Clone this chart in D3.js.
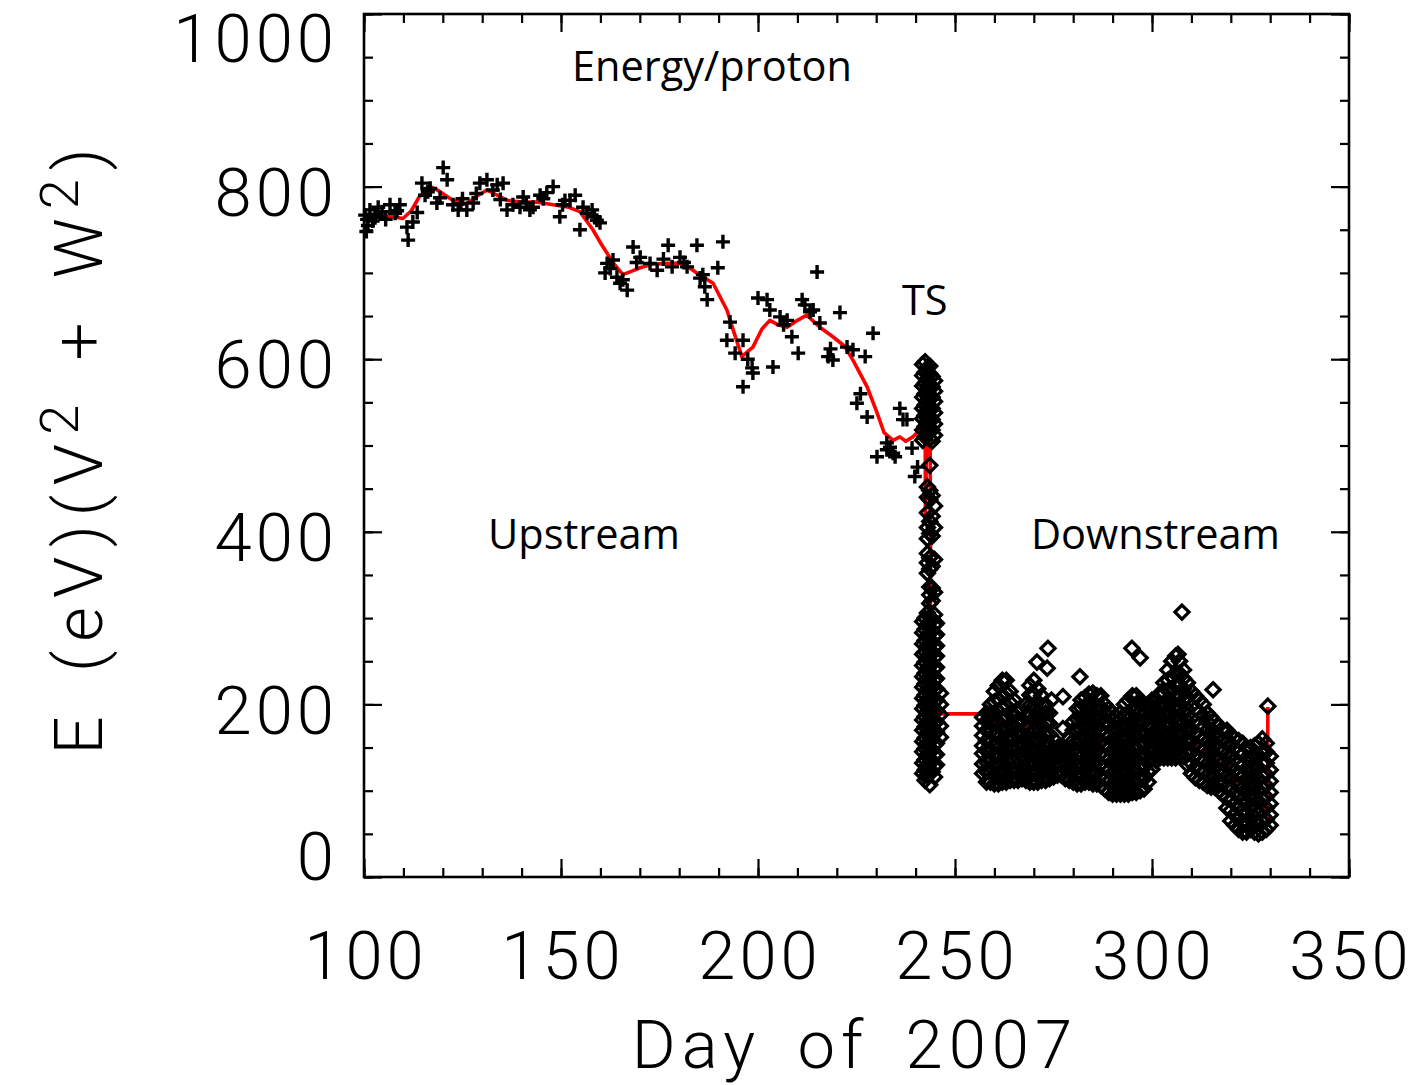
<!DOCTYPE html>
<html>
<head>
<meta charset="utf-8">
<script src="https://cdn.jsdelivr.net/npm/d3@7"></script>
<style>
  body { margin: 0; background: #fff; }
  .num { font-family: Roboto, "DejaVu Sans", sans-serif; font-weight: 300; font-size: 67px; letter-spacing: 4px; fill: #000; }
  .note { font-family: "Open Sans", sans-serif; font-size: 41.5px; fill: #000; }
</style>
</head>
<body>
<script>
// upstream crosses (day, E)
const upDay = [100.3,100.6,101.0,101.5,102.2,102.8,103.6,104.6,105.5,106.6,107.9,109.1,110.9,111.2,112.4,113.5,114.7,116.2,116.8,118.5,
  120.1,121.1,122.6,123.9,125.0,126.1,127.7,129.4,131.2,132.7,133.8,135.3,136.3,137.8,139.6,140.4,142.1,142.9,144.7,146.4,
  148.0,149.7,151.0,152.3,153.6,154.8,156.6,157.9,159.1,159.9,161.2,161.7,163.2,164.2,165.0,165.7,166.8,168.3,170.1,172.6,
  174.4,177.2,178.2,180.2,182.0,184.5,185.3,186.5,187.1,189.8,191.1,192.1,192.9,194.2,196.2,196.2,198.5,198.7,200.0,202.3,
  203.0,203.8,205.6,207.4,208.6,210.2,211.2,211.9,214.0,215.0,215.7,217.8,219.0,220.8,222.6,224.1,225.1,227.2,227.7,229.2,
  230.2,232.7,232.7,234.3,234.8,236.0,236.8,237.8,239.1,239.8,240.5,
  100.8,103.0,108.4,115.5,119.3,124.6,128.5,134.6,141.2,145.5,150.4,155.6,158.5,162.5,169.2,176.0,181.2,186.0,197.4,206.5,213.2,218.4,226.0,233.5];
const upVal = [767,748,755,773,760,764,776,771,762,779,769,779,753,738,759,770,804,794,798,781,
  822,808,779,773,786,773,781,804,808,796,802,804,773,779,776,788,773,776,790,793,
  800,765,784,784,790,750,769,773,761,758,700,711,715,695,688,692,680,730,718,711,
  703,732,707,718,707,732,694,684,669,706,736,622,643,607,622,568,590,584,671,669,
  657,591,649,645,626,607,669,663,657,701,642,603,599,654,614,611,549,603,533,630,
  487,503,495,491,487,543,530,530,497,464,475,
  762,768,772,790,787,780,792,785,781,786,779,776,765,705,712,716,712,698,600,640,655,612,560,498];

// shock crossing (TS) diamonds, one column per time step
const tsDay = [241.8, 242.4, 243.0, 243.6, 244.2, 244.8, 245.3, 246.3];
const tsVals = [
  [120,132,145,157,170,182,195,207,220,232,245,258,270,283,296,506,518,531,543,556,569,581,594],
  [112,124,136,149,161,174,186,199,211,224,236,249,261,274,287,300,510,522,535,547,560,572,585,597],
  [118,130,142,155,167,180,192,205,217,230,242,255,268,280,293,306,352,364,375,392,405,422,440,452,515,527,540,552,565,577,590],
  [107,125,137,150,162,175,187,200,212,225,237,250,262,275,288,301,317,327,336,357,370,398,412,437,448,477,508,520,533,545,558,570,583,592],
  [122,134,147,159,172,184,197,209,222,234,247,259,272,285,298,320,335,360,395,418,442,505,518,530,543,556,568,580],
  [116,128,141,153,166,178,191,203,216,228,241,254,266,279,292,304,330,368,405,430,512,525,538,551,563,575],
  [130,142,155,168,180,193,205,218,230,243,256,268,281,294],
  [162,175,188,200,213]
];

// downstream diamonds, one column per day
const dnDay = d3.range(257, 331);
const dnVals = [
  [120,131,143,152,164,175,185],
  [110,122,133,146,158,170,181,190],
  [110,121,134,145,156,168,179,190,200],
  [108,119,131,142,154,166,178,190,203,215],
  [108,120,132,143,155,167,180,192,205,222],
  [110,121,133,146,158,171,184,197,211,228],
  [110,122,135,147,160,172,186,199,213,228],
  [112,124,137,149,162,175,189,202,215],
  [112,124,136,149,161,174,188,205],
  [112,124,137,150,163,177,190],
  [114,126,139,151,164,182],
  [112,124,136,148,161,174,187,200],
  [110,122,134,147,160,173,186,199,211,222],
  [110,121,133,146,158,171,184,198,212,228],
  [110,122,135,147,160,174,188,203,218],
  [112,124,136,149,162,176,190,210],
  [112,125,138,151,164,178,190,200],
  [114,126,139,152,165,178,190],
  [116,128,140,150,160],
  [118,129,140,150],
  [118,129,140,150],
  [114,125,137,148],
  [112,124,136,148,160],
  [110,122,134,146,158,170,180],
  [108,120,132,144,157,170,183,195],
  [108,120,132,145,158,171,184,196,205],
  [110,122,134,147,160,173,186,198,208],
  [110,121,133,145,158,171,184,198,212],
  [108,120,132,145,158,171,185,199,213],
  [108,120,133,146,159,172,185,198,210],
  [106,118,131,144,157,170,184,197,210],
  [102,114,127,140,153,166,179,190,200],
  [98,110,123,136,149,162,175,186,195],
  [96,108,121,134,147,160,172,182,190],
  [96,108,120,133,146,159,172,185],
  [96,108,121,134,147,160,173,183,190],
  [96,108,121,134,147,160,173,187,200],
  [96,108,121,134,148,161,175,190,205],
  [98,110,123,136,150,163,177,192,210],
  [98,110,123,137,150,164,178,194,210],
  [100,112,125,138,151,165,179,192,205],
  [102,114,127,140,153,166,179,190,200],
  [110,122,134,147,160,173,186,200],
  [125,137,149,161,173,186,198,205],
  [135,147,159,171,183,195,205],
  [138,150,162,174,186,198,210],
  [138,150,163,176,189,201,213,225],
  [138,151,164,177,190,203,216,228,240],
  [138,151,164,177,190,204,218,232,250],
  [138,151,165,179,193,207,221,236,256],
  [140,153,166,180,194,208,222,236,250],
  [140,153,166,179,192,205,218,230,240],
  [130,142,155,168,181,194,208,225],
  [120,132,145,158,171,184,198,215],
  [115,127,140,153,166,180,195,210],
  [112,124,137,150,163,177,191,205],
  [110,122,135,148,161,174,187,200],
  [106,118,131,144,157,170,180,190],
  [104,116,129,142,155,168,185],
  [104,116,128,141,154,167,180],
  [100,112,124,137,150,163,175],
  [95,107,119,132,145,158,170],
  [80,92,104,117,130,143,157,170],
  [65,77,90,103,116,129,142,155,165],
  [60,72,85,98,111,124,137,149,160],
  [55,67,80,93,106,119,132,145,158],
  [52,64,77,90,103,116,129,142,155],
  [52,64,76,89,102,114,126,138,150],
  [55,67,79,91,103,115,127,139,150],
  [52,64,77,90,103,116,128,140,152],
  [50,62,75,88,101,114,127,141,155],
  [52,64,77,90,103,117,131,145,160],
  [55,67,80,93,106,119,132,145,155],
  [60,72,85,98,111,124,140]
];
// stray downstream points
const outDay = [270.8,273.6,273.4,274.5,277.4,277.4,281.7,294.9,297.0,302.5,306.6,307.6,315.5,329.4];
const outVal = [249,265,242,205,209,172,232,265,254,215,258,307,217,198];

// red running mean
const fitDay = [100.3,103,106,109.9,112,114,116.8,119,122.6,126,129,131.2,133,136.3,140,144,148,152,154.8,158.1,160,163.2,165.7,168,170.1,
  173,176.9,181,184.5,188.6,192.1,193.7,195.9,198.7,201,203,205,207.4,210,212.4,215.7,219,222,224.1,227.7,230.2,232,234.3,236,237.5,239.3,241.1,
  241.6,242.0,242.4,242.5,242.7,243.3,243.7,243.8,243.9,244.0,244.1,244.8,246.7,258.1,258.5,259.5,261.5,263,265,267,270,272,274,276,278,280,283,286,289,
  292,294,296,298,301,303,305,306.6,308,309,312,315.5,317,319,322,325.7,327,328.7,329.3,329.4];
const fitVal = [761,765,766,763,772,788,800,795,784,780,790,796,792,784,782,782,779,776,771,750,735,712,698,702,706,
  710,711,711,700,688,657,634,603,614,635,645,640,637,645,651,637,626,615,599,568,538,515,506,510,505,510,518,
  560,590,575,410,480,540,520,306,140,260,180,190,189,189,172,180,185,170,160,165,190,170,159,150,144,150,155,156,155,
  144,150,159,144,167,180,197,207,185,174,144,155,140,128,101,104,95,78,66,197];

const xMajor = [100,150,200,250,300,350];
const yMajor = [0,200,400,600,800,1000];

const width = 1416, height = 1085;
const svg = d3.select("body").append("svg").attr("width", width).attr("height", height);

const x = d3.scaleLinear().domain([100, 350]).range([364, 1349]);
const y = d3.scaleLinear().domain([0, 1000]).range([877, 14]);

// ticks, mirrored on all four sides
const xMinor = d3.range(100, 351, 10), yMinor = d3.range(0, 1001, 50);
function tickGroup(axis, tr) {
  const g = svg.append("g").attr("transform", tr).call(axis);
  g.select(".domain").remove();
  g.selectAll(".tick line").attr("stroke", "#000").attr("stroke-width", 2.2);
  return g;
}
[[d3.axisBottom, "translate(0,877)"], [d3.axisTop, "translate(0,14)"]].forEach(([ax, tr]) => {
  tickGroup(ax(x).tickValues(xMinor).tickSize(-9).tickFormat(""), tr);
  tickGroup(ax(x).tickValues(xMajor).tickSize(-18).tickFormat(""), tr);
});
[[d3.axisLeft, "translate(364,0)"], [d3.axisRight, "translate(1349,0)"]].forEach(([ax, tr]) => {
  tickGroup(ax(y).tickValues(yMinor).tickSize(-9).tickFormat(""), tr);
  tickGroup(ax(y).tickValues(yMajor).tickSize(-18).tickFormat(""), tr);
});

svg.append("rect").attr("x", x(100)).attr("y", y(1000))
  .attr("width", x(350) - x(100)).attr("height", y(0) - y(1000))
  .attr("fill", "none").attr("stroke", "#000").attr("stroke-width", 2.6);

// tick labels
svg.selectAll("text.xl").data(xMajor).enter().append("text")
  .attr("class", "num xl").attr("x", d => x(d) + 2).attr("y", 979)
  .attr("text-anchor", "middle").text(d => d);
svg.selectAll("text.yl").data(yMajor).enter().append("text")
  .attr("class", "num yl").attr("x", 338)
  .attr("y", d => y(d) + (d === 1000 ? 24 : d === 0 ? -21 : 5))
  .attr("dy", "0.36em").attr("text-anchor", "end").text(d => d);

// axis titles
svg.append("text").attr("class", "num").attr("x", 855).attr("y", 1068)
  .attr("text-anchor", "middle").style("letter-spacing", "6px").style("word-spacing", "14px").text("Day of 2007");
const yt = svg.append("text").attr("class", "num")
  .attr("transform", "translate(102,447) rotate(-90)").attr("text-anchor", "middle")
  .style("letter-spacing", "9px").style("word-spacing", "10px");
yt.append("tspan").text("E  (eV)(V");
yt.append("tspan").attr("dy", -24).style("font-size", "54px").text("2");
yt.append("tspan").attr("dy", 24).text(" + W");
yt.append("tspan").attr("dy", -24).style("font-size", "54px").text("2");
yt.append("tspan").attr("dy", 24).text(")");

// running mean
svg.append("path")
  .attr("d", d3.line().x(d => x(d[0])).y(d => y(d[1]))(fitDay.map((d, i) => [d, fitVal[i]])))
  .attr("fill", "none").attr("stroke", "#ff0000").attr("stroke-width", 3.6).attr("stroke-linejoin", "round");

// upstream crosses
svg.selectAll("path.up").data(upDay).enter().append("path")
  .attr("class", "up")
  .attr("transform", (d, i) => `translate(${x(d)},${y(upVal[i])})`)
  .attr("d", "M-7,0H7M0,-7V7").attr("stroke", "#000").attr("stroke-width", 3.4);

// downstream + TS diamonds
const diamonds = [];
tsDay.forEach((d, i) => tsVals[i].forEach(v => diamonds.push([d, v])));
dnDay.forEach((d, i) => dnVals[i].forEach(v => diamonds.push([d, v])));
outDay.forEach((d, i) => diamonds.push([d, outVal[i]]));
svg.selectAll("path.dn").data(diamonds).enter().append("path")
  .attr("class", "dn")
  .attr("transform", d => `translate(${x(d[0])},${y(d[1])})`)
  .attr("d", "M0,-7L7,0L0,7L-7,0Z")
  .attr("fill", "none").attr("stroke", "#000").attr("stroke-width", 3.3);

// annotations
const notes = [["Energy/proton", 572, 81], ["TS", 902, 315], ["Upstream", 488, 549], ["Downstream", 1031, 549]];
svg.selectAll("text.note").data(notes).enter().append("text")
  .attr("class", "note").attr("x", d => d[1]).attr("y", d => d[2]).text(d => d[0]);
</script>
</body>
</html>
